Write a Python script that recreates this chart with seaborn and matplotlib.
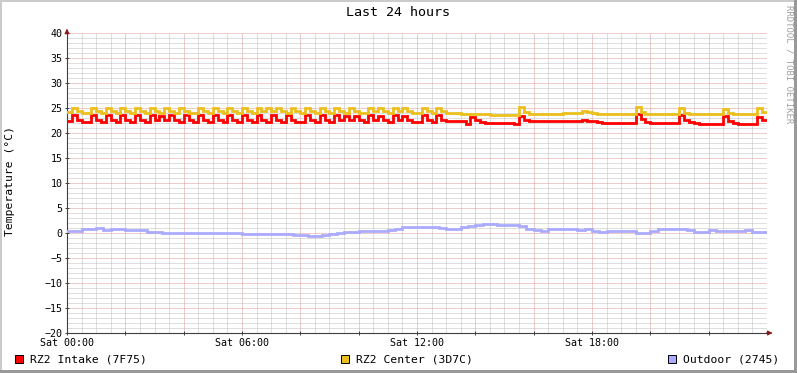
import numpy as np
import matplotlib
matplotlib.use("Agg")
import matplotlib.pyplot as plt
from matplotlib.patches import Rectangle
import seaborn as sns

TITLE = "Last 24 hours"
Y_LABEL = "Temperature (°C)"
WATERMARK = "RRDTOOL / TOBI OETIKER"
SERIES_NAMES = ["RZ2 Intake (7F75)", "RZ2 Center (3D7C)", "Outdoor (2745)"]
SERIES_COLORS = ["#FF0000", "#EBC01E", "#AAAAFF"]
X_TICK_HOURS = [0, 6, 12, 18]
X_TICK_LABELS = ["Sat 00:00", "Sat 06:00", "Sat 12:00", "Sat 18:00"]

# 10 minute samples, Sat 00:00 .. Sun 00:00
intake = [
    22.5, 23.6, 22.7, 22.3, 22.2, 23.6, 22.7, 22.3, 23.6, 22.7, 22.3, 23.6,
    22.7, 22.3, 23.6, 22.7, 22.3, 23.6, 22.7, 23.5, 22.7, 23.6, 22.7, 22.3,
    23.6, 22.7, 22.3, 23.6, 22.7, 22.3, 23.6, 22.7, 22.3, 23.6, 22.7, 22.3,
    23.6, 22.7, 22.3, 23.6, 22.7, 22.3, 23.6, 22.7, 22.3, 23.6, 22.7, 22.3,
    22.2, 23.6, 22.7, 22.3, 23.6, 22.7, 22.3, 23.6, 22.7, 23.5, 22.7, 23.5,
    22.7, 22.3, 23.6, 22.7, 23.5, 22.7, 22.3, 23.6, 22.7, 23.5, 22.7, 22.3,
    22.2, 23.6, 22.7, 22.3, 23.6, 22.7, 22.4, 22.4, 22.4, 22.4, 21.9, 23.3,
    22.6, 22.2, 22.1, 22.1, 22.1, 22.1, 22.1, 22.1, 21.9, 23.4, 22.7, 22.4,
    22.4, 22.4, 22.5, 22.5, 22.5, 22.5, 22.5, 22.5, 22.5, 22.5, 22.7, 22.5,
    22.4, 22.2, 22.1, 22.1, 22.1, 22.1, 22.1, 22.1, 22.0, 23.8, 22.8, 22.3,
    22.1, 22.1, 22.0, 22.0, 22.0, 22.0, 23.7, 22.7, 22.3, 22.0, 21.9, 21.9,
    21.9, 21.9, 21.9, 23.4, 22.5, 22.0, 21.9, 21.9, 21.9, 21.9, 23.2, 22.6,
]
center = [
    24.2, 25.0, 24.5, 24.1, 24.1, 25.0, 24.5, 24.1, 25.0, 24.5, 24.1, 25.0,
    24.5, 24.1, 25.0, 24.5, 24.1, 25.0, 24.5, 24.1, 25.0, 24.5, 24.1, 25.0,
    24.5, 24.1, 24.1, 25.0, 24.5, 24.1, 25.0, 24.5, 24.1, 25.0, 24.5, 24.1,
    25.0, 24.5, 24.1, 25.0, 24.5, 25.0, 24.5, 25.0, 24.5, 24.1, 25.0, 24.5,
    24.1, 25.0, 24.5, 24.1, 25.0, 24.5, 24.1, 25.0, 24.5, 24.1, 25.0, 24.5,
    24.1, 24.1, 25.0, 24.5, 25.0, 24.5, 24.1, 25.0, 24.5, 25.0, 24.5, 24.1,
    24.1, 25.0, 24.5, 24.1, 25.0, 24.5, 24.1, 24.0, 24.0, 23.9, 23.9, 23.9,
    23.9, 23.8, 23.8, 23.7, 23.7, 23.7, 23.7, 23.7, 23.7, 25.2, 24.3, 23.9,
    23.8, 23.8, 23.8, 23.8, 23.8, 23.9, 24.0, 24.0, 24.1, 24.1, 24.5, 24.2,
    24.0, 23.9, 23.9, 23.9, 23.9, 23.9, 23.9, 23.9, 23.9, 25.2, 24.2, 23.8,
    23.8, 23.8, 23.8, 23.8, 23.8, 23.8, 25.1, 24.1, 23.8, 23.8, 23.8, 23.8,
    23.8, 23.8, 23.8, 24.9, 24.1, 23.9, 23.9, 23.9, 23.9, 23.9, 25.1, 24.2,
]
# 15 minute samples
outdoor = [
    0.4, 0.45, 0.8, 0.8, 1.05, 0.7, 0.75, 0.8,
    0.7, 0.6, 0.6, 0.3, 0.3, 0.0, -0.05, -0.05,
    0.0, 0.05, 0.05, 0.05, 0.05, 0.0, 0.0, 0.0,
    -0.1, -0.1, -0.1, -0.1, -0.1, -0.1, -0.2, -0.3,
    -0.3, -0.6, -0.5, -0.3, -0.2, 0.1, 0.15, 0.2,
    0.4, 0.4, 0.4, 0.45, 0.6, 0.8, 1.2, 1.3,
    1.3, 1.3, 1.25, 1.0, 0.8, 0.8, 1.2, 1.4,
    1.7, 1.9, 1.85, 1.7, 1.6, 1.6, 1.4, 0.8,
    0.55, 0.5, 0.8, 0.9, 0.85, 0.75, 0.7, 0.75,
    0.35, 0.3, 0.5, 0.5, 0.5, 0.45, 0.1, 0.05,
    0.4, 0.8, 0.8, 0.8, 0.8, 0.6, 0.2, 0.2,
    0.6, 0.4, 0.4, 0.4, 0.5, 0.6, 0.3, 0.2,
]


def step_xy(vals, minutes):
    # repeat last sample so the step reaches the right edge
    t = np.arange(len(vals) + 1) * minutes / 60.0
    return t, list(vals) + [vals[-1]]


plt.rcParams["font.family"] = ["DejaVu Sans Mono"]
fig = plt.figure(figsize=(7.97, 3.73), dpi=100, facecolor="white")
ax = fig.add_axes([67 / 797, 40 / 373, 700 / 797, 300 / 373])

for vals, minutes, color in zip([outdoor, intake, center], [15, 10, 10],
                                [SERIES_COLORS[2], SERIES_COLORS[0], SERIES_COLORS[1]]):
    t, v = step_xy(vals, minutes)
    sns.lineplot(x=t, y=v, ax=ax, color=color, lw=2.0, drawstyle="steps-post",
                 solid_joinstyle="miter", zorder=3)

ax.set_xlim(0, 24)
ax.set_ylim(-20, 40)

# grid: major red every 2h / 5 deg, minor grey every 30 min / 1 deg
xt = np.arange(0, 24, 2)
ax.set_xticks(xt)
ax.set_xticklabels([X_TICK_LABELS[X_TICK_HOURS.index(h)] if h in X_TICK_HOURS else "" for h in xt])
ax.set_xticks(np.arange(0, 24, 0.5), minor=True)
ax.set_yticks(np.arange(-20, 41, 5))
ax.set_yticks(np.arange(-20, 41, 1), minor=True)
ax.grid(which="minor", color="#BEBEBE", lw=0.72, ls=(0, (1, 1)), zorder=0)
ax.grid(which="major", color="#E09A9A", lw=0.72, ls=(0, (1, 1)), zorder=1)
ax.set_axisbelow(True)

ax.tick_params(which="major", length=2.5, width=0.7, color="#404040", direction="inout",
               labelsize=7.2, pad=2)
ax.tick_params(which="minor", length=0)
for s in ["top", "right"]:
    ax.spines[s].set_visible(False)
for s in ["left", "bottom"]:
    ax.spines[s].set_color("#404040")
    ax.spines[s].set_linewidth(0.8)

# axis arrows
ax.annotate("", xy=(0, 1.024), xytext=(0, 0.99), xycoords="axes fraction",
            arrowprops=dict(arrowstyle="-|>", color="#8B1A1A", lw=0.8, mutation_scale=7))
ax.annotate("", xy=(1.012, 0), xytext=(0.995, 0), xycoords="axes fraction",
            arrowprops=dict(arrowstyle="-|>", color="#8B1A1A", lw=0.8, mutation_scale=7))

ax.set_xlabel("")
ax.set_ylabel(Y_LABEL, fontsize=8.2)
ax.yaxis.set_label_coords(-52 / 700, 0.505)

fig.text(0.5, 1 - 13 / 373, TITLE, ha="center", va="center", fontsize=9.6)
fig.text(789 / 797, 1 - 5 / 373, WATERMARK, rotation=270, ha="center", va="top",
         fontsize=6.5, color="#A0A0A0")

# legend row
box_x = [15, 341, 668]
for name, color, bx in zip(SERIES_NAMES, SERIES_COLORS, box_x):
    fig.add_artist(Rectangle((bx / 797, (373 - 363) / 373), 8 / 797, 8 / 373,
                             transform=fig.transFigure, facecolor=color,
                             edgecolor="black", lw=0.7))
    fig.text((bx + 15) / 797, (373 - 359) / 373, name, ha="left", va="center", fontsize=8.2)

# frame shading
fig.add_artist(Rectangle((0, 1 - 2 / 373), 1, 2 / 373, transform=fig.transFigure,
                         color="#CBCBCB", lw=0))
fig.add_artist(Rectangle((0, 0), 2 / 797, 1, transform=fig.transFigure,
                         color="#CBCBCB", lw=0))
fig.add_artist(Rectangle((0, 0), 1, 3 / 373, transform=fig.transFigure,
                         color="#999999", lw=0))
fig.add_artist(Rectangle((1 - 3 / 797, 0), 3 / 797, 1, transform=fig.transFigure,
                         color="#999999", lw=0))

fig.savefig("out.png", dpi=100, facecolor="white")
